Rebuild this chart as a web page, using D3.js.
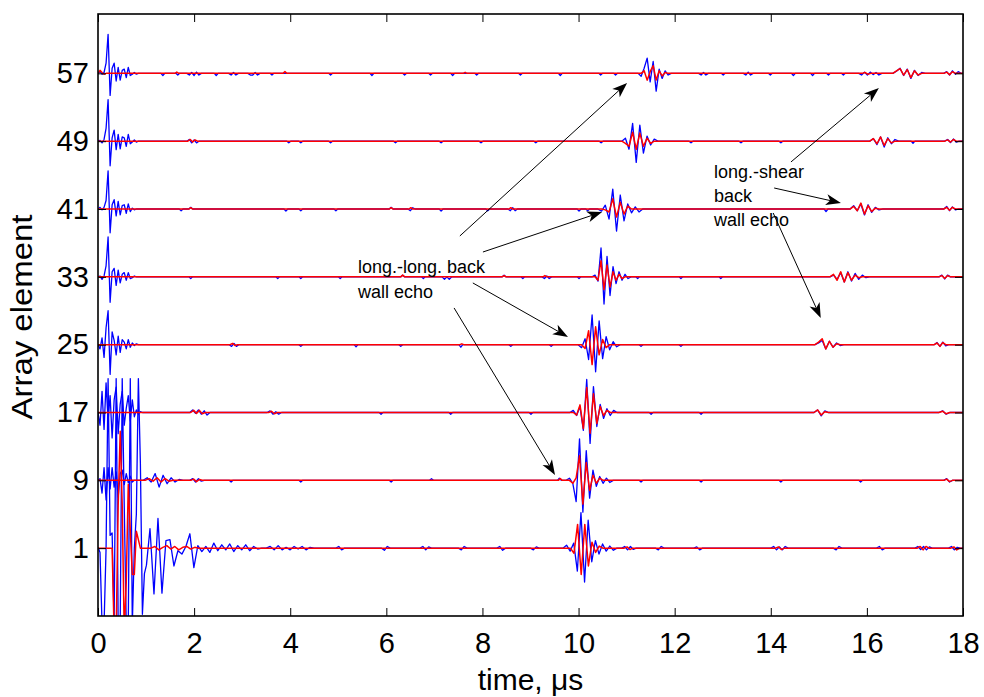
<!DOCTYPE html>
<html><head><meta charset="utf-8">
<script src="https://cdn.jsdelivr.net/npm/d3@7"></script>
<style>
body{margin:0;background:#fff}
svg{display:block}
text{font-family:"Liberation Sans",Arial,Helvetica,sans-serif;fill:#000}
</style></head><body>
<svg id="chart" width="984" height="697"></svg>
<script>
// ---------- data ----------
const elements = [1, 9, 17, 25, 33, 41, 49, 57];
const xTicks = [0, 2, 4, 6, 8, 10, 12, 14, 16, 18];
const xDomain = [0, 18];
const yDomain = [-7, 64];
const xLabel = "time, \u03bcs";
const yLabel = "Array element";
// each burst: [start time (µs), step (µs), offsets from the element baseline (element units)]
const blue57 = [
  [0, 0.042, [0, .2, -.1, .1, 1.2, 4.6, -2.6, .6, 1.2, -.9, .7, -.8, .35, .5, -.5, .7, -.25, -.1, .1, -.1, 0]],
  [1.31, .04, [0, -.25, 0]], [1.62, .04, [0, -.2, 0]], [1.85, .05, [0, -.2, .1, -.25, .15, -.2, 0]],
  [2.42, .04, [0, -.25, 0]], [2.72, .05, [0, -.2, .1, -.2, 0]], [3.12, .05, [0, -.2, -.2, .1, -.2, 0]],
  [3.58, .04, [0, -.2, 0]], [4.8, .04, [0, -.2, 0]], [5.66, .04, [0, -.25, 0]], [6.34, .04, [0, -.2, 0]],
  [6.88, .04, [0, -.2, 0]], [7.34, .04, [0, -.25, 0]], [7.84, .04, [0, -.2, 0]], [8.75, .04, [0, -.2, 0]],
  [9.58, .04, [0, -.25, 0]], [10.42, .04, [0, -.2, 0]], [10.73, .04, [0, -.2, 0]],
  [11.24, .0625, [0, -.35, .6, 1.8, -1.0, 1.4, -2.1, .5, -.6, .3, -.2, 0]],
  [12.5, .05, [0, -.2, .1, -.2, 0]], [12.97, .04, [0, -.2, 0]], [13.43, .05, [0, -.2, .15, -.2, 0]],
  [13.95, .04, [0, -.2, 0]], [14.43, .04, [0, -.25, 0]], [14.83, .04, [0, -.25, 0]], [15.16, .04, [0, -.2, 0]],
  [15.47, .04, [0, -.2, 0]], [15.83, .06, [0, -.2, .15, -.2, .15, -.15, .1, -.2, 0]],
  [16.54, .075, [0, .25, .6, -.25, .5, -.6, .35, -.25, .1, 0]],
  [17.6, .06, [0, .2, -.2, .3, -.1, .2, 0]]
];
const red57 = [
  [0, 0.042, [0, .35, .1, -.1, 0]],
  [1.6, .04, [0, .15, 0]], [3.85, .04, [0, .2, 0]], [7.6, .04, [0, .12, 0]],
  [11.24, .0625, [0, 0, .3, -.8, .2, .9, -.8, .3, -.3, .1, 0]],
  [15.9, .06, [0, .1, -.1, 0]],
  [16.54, .075, [0, .3, .55, -.2, .45, -.5, .3, -.2, 0]],
  [17.6, .06, [0, .15, -.15, .2, 0]]
];
const blue49 = [
  [0, 0.042, [0, .1, -.2, .2, 1.5, 4.9, -2.9, .4, 1.3, -1.0, .8, -.9, .5, .4, -.6, .8, -.3, -.1, .15, -.1, 0]],
  [1.85, .05, [0, .2, -.2, .15, -.2, 0]], [3.93, .04, [0, -.2, 0]], [4.18, .04, [0, -.2, 0]],
  [4.8, .04, [0, -.2, 0]], [6.15, .04, [0, -.2, 0]], [7.1, .04, [0, -.2, 0]], [7.93, .04, [0, -.2, 0]],
  [9.07, .04, [0, -.2, 0]], [10.43, .04, [0, -.2, 0]],
  [10.90, .075, [0, .35, -.95, 2.1, -2.5, 1.9, -1.4, .6, -.45, .25, 0]],
  [12.3, .04, [0, -.2, 0]], [13.34, .04, [0, -.2, 0]], [14.17, .04, [0, -.2, 0]],
  [16.06, .075, [0, .3, -.4, .5, -.7, .4, -.3, .2, 0]],
  [16.92, .04, [0, -.25, 0]],
  [17.62, .06, [0, .2, -.15, .25, -.1, 0]]
];
const red49 = [
  [1.87, .05, [0, .2, -.1, .15, 0]],
  [10.90, .075, [0, -.25, -.6, 1.05, -.95, .95, -.6, .35, -.25, 0]],
  [16.06, .075, [0, .3, -.3, .5, -.5, .3, -.2, 0]],
  [17.62, .06, [0, .15, -.1, .2, 0]]
];
const blue41 = [
  [0, 0.042, [0, .2, -.1, .2, 1.0, 4.5, -2.8, .5, 1.1, -.8, .9, -.7, .4, .5, -.5, .6, -.3, .1, -.1, 0]],
  [1.69, .04, [0, -.2, 0]], [1.89, .04, [0, .2, 0]], [3.87, .04, [0, -.25, 0]], [4.18, .04, [0, -.2, 0]],
  [4.91, .04, [0, -.2, 0]], [6.06, .04, [0, .2, 0]], [6.45, .05, [0, -.2, .15, 0]], [7.1, .04, [0, -.25, 0]],
  [8.07, .04, [0, -.2, 0]], [8.53, .05, [0, -.2, .15, -.2, 0]], [9.97, .04, [0, -.25, 0]], [10.15, .04, [0, -.2, 0]],
  [10.40, .078, [0, -.25, .45, -1.2, 2.35, -2.6, 1.65, -1.4, .6, -.45, .25, -.35, 0]],
  [15.11, .04, [0, -.3, 0]],
  [15.65, .075, [0, .4, -.2, .6, -.7, .5, -.4, .2, -.1, 0]],
  [17.6, .06, [0, .3, -.2, .25, -.1, 0]]
];
const red41 = [
  [1.89, .04, [0, .15, 0]], [6.06, .04, [0, .15, 0]], [6.47, .04, [0, .15, 0]], [8.55, .04, [0, .15, 0]],
  [10.40, .078, [0, 0, -.1, -.35, 1.2, -.95, .8, -.6, .35, 0]],
  [15.65, .075, [0, .3, -.2, .7, -.6, .4, -.3, .1, 0]],
  [17.6, .06, [0, .2, -.15, .2, 0]]
];
const blue33 = [
  [0, 0.042, [0, .1, -.3, .1, 1.3, 4.7, -3.0, .6, 1.0, -1.0, .8, -.7, .3, .5, -.4, .5, -.2, -.1, .1, 0]],
  [1.89, .04, [0, -.2, 0]], [3.7, .04, [0, -.2, 0]], [4.18, .04, [0, -.2, 0]], [5.0, .04, [0, -.2, 0]],
  [6.3, .04, [0, .2, 0]], [6.73, .04, [0, -.2, 0]], [7.16, .05, [0, -.3, 0, -.3, 0]], [8.41, .04, [0, .2, 0]],
  [8.8, .04, [0, -.2, 0]], [9.24, .05, [0, -.2, .1, -.2, 0]], [9.97, .04, [0, -.2, 0]],
  [10.28, .0625, [0, .2, -.5, 3.4, -3.2, 2.4, -2.2, 1.2, -.8, .6, -.4, .3, -.2, 0]],
  [11.19, .04, [0, -.2, 0]], [12.09, .04, [0, -.2, 0]], [12.92, .04, [0, -.2, 0]],
  [15.23, .075, [0, .2, -.3, .5, -.6, .6, -.5, .4, -.3, .2, -.1, 0]],
  [17.5, .06, [0, .2, -.25, .2, 0]]
];
const red33 = [
  [6.3, .04, [0, .2, 0]], [8.41, .04, [0, .15, 0]], [9.26, .04, [0, .15, 0]],
  [10.28, .0625, [0, 0, -.4, 1.9, -1.5, 1.4, -1.2, .6, -.4, .3, -.2, 0]],
  [15.23, .075, [0, .3, -.4, .6, -.6, .5, -.4, .2, -.1, 0]],
  [17.5, .06, [0, .15, -.2, .15, 0]]
];
const blue25 = [
  [0, 0.042, [0, -.5, .8, -1.5, 2.0, 4.0, -3.5, 1.5, .5, -1.2, 1.0, -.9, .6, .3, -.5, .6, -.3, .2, -.1, .1, 0]],
  [2.73, .05, [0, -.2, .15, -.2, 0]], [4.18, .04, [0, -.2, 0]], [5.33, .04, [0, -.25, 0]], [6.26, .04, [0, -.2, 0]],
  [7.51, .04, [0, -.3, 0]], [8.55, .04, [0, -.2, 0]], [9.39, .04, [0, -.2, 0]],
  [9.99, .073, [0, -.35, .7, -1.75, 3.5, -3.2, 2.8, -1.65, .95, -.6, .35, -.25, 0]],
  [11.26, .04, [0, -.2, 0]], [12.09, .04, [0, -.2, 0]],
  [14.92, .075, [0, .2, .5, -.5, .4, -.3, .2, -.1, 0]],
  [17.4, .06, [0, .25, -.2, .3, -.15, 0]]
];
const red25 = [
  [2.75, .05, [0, .15, -.1, 0]], [7.53, .04, [0, .1, 0]],
  [9.99, .073, [0, 0, -.45, 1.65, -2.35, 2.1, -1.2, .6, -.35, 0]],
  [14.92, .075, [0, .3, .7, -.5, .4, -.3, .1, 0]],
  [17.4, .06, [0, .2, -.2, .25, 0]]
];
const blue17 = [
  [0, 0.042, [0, -1.5, 2.5, -2.0, 3.5, -1.0, 2.0, -3.0, 1.5, 3.0, -2.5, 1.0, 2.5, -1.5, .5, 2.0, -1.0, 1.5, -.5, .3, -.2, .1, 0]],
  [1.91, .06, [0, .3, -.1, .3, -.2, .2, -.3, 0]], [3.52, .06, [0, .2, -.2, .1, -.2, 0]],
  [5.85, .04, [0, -.2, 0]], [7.3, .04, [0, -.2, 0]], [8.97, .04, [0, -.2, 0]],
  [9.82, .07, [0, .25, -.35, .7, -2.1, 3.9, -3.65, 3.05, -1.65, .95, -.7, .45, -.35, .25, 0]],
  [11.47, .04, [0, -.2, 0]], [12.51, .04, [0, -.2, 0]],
  [14.9, .075, [0, .3, -.4, .2, 0]],
  [17.5, .075, [0, .2, -.2, 0]]
];
const red17 = [
  [1.93, .06, [0, .25, -.1, .25, -.15, 0]], [3.55, .06, [0, .15, -.15, 0]],
  [9.82, .07, [0, 0, -.3, .9, -1.9, 2.95, -2.45, 2.2, -1.3, .7, -.35, .25, 0]],
  [14.9, .075, [0, .3, -.3, .1, 0]],
  [17.5, .075, [0, .15, -.15, 0]]
];
const blue9 = [
  [0, 0.042, [0, .2, -1.5, 1.5, -2.3, 1.5, -1.0, 1.5, -.8, 1.0, -2.0, .8, 1.2, -.5, .8, -.3, .5, -.2, 0]],
  [0.94, .083, [0, .3, -.2, .8, -.8, .6, -.4, .3, -.2, .1, 0]],
  [1.91, .06, [0, .2, -.2, .2, -.1, 0]], [2.73, .04, [0, -.2, 0]], [4.18, .04, [0, -.2, 0]],
  [6.06, .04, [0, -.2, 0]], [6.9, .04, [0, .2, 0]], [9.56, .04, [0, .25, 0]],
  [9.74, .07, [0, .25, -.35, -2.5, 4.9, -3.75, 3.5, -2.1, 1.2, -.7, .45, -.35, .25, -.25, 0]],
  [11.26, .04, [0, -.2, 0]], [12.51, .04, [0, -.2, 0]], [14.17, .04, [0, -.2, 0]], [15.83, .04, [0, -.2, 0]],
  [17.6, .06, [0, .2, -.2, 0]]
];
const red9 = [
  [0.98, .083, [0, .2, -.1, .3, -.2, .2, -.1, 0]],
  [1.93, .06, [0, .15, -.15, .1, 0]], [9.58, .04, [0, .2, 0]],
  [9.74, .07, [0, 0, -.35, .3, 2.9, -2.8, 2.1, -1.2, .6, -.35, .25, 0]],
  [17.6, .06, [0, .15, -.15, 0]]
];
const blue1 = [
  [0, 0.042, [.1, -.5, -9, -9, 0, 20, 1.5, 1.8, -9, 20, -9, -9, 20, 5, -9, -9, 20, -9, 0, 4, 20, 10, -7.8, -3, -2]],
  [1.082, .083, [2.3, -5.4, 3.5, -5.3, .9, 1.0, -2.1, -.3, -.7, .2, 1.7, -2.3, .3, -.4, .2, -.5, .6, -.3, .4, -.2, .5, -.4, .3, -.2, .4, -.3, .2, -.1, 0]],
  [3.5, .083, [0, .2, -.2, .3, -.2, .1, -.2, .2, -.1, .2, -.2, .1, 0]],
  [4.95, .06, [0, .2, -.2, 0]], [5.9, .06, [0, -.25, .2, 0]], [6.7, .06, [0, .2, -.2, .15, 0]],
  [7.5, .06, [0, -.2, .2, 0]], [8.3, .06, [0, .2, -.25, 0]], [9.0, .06, [0, -.2, .15, 0]],
  [9.675, .075, [0, .35, -.35, .6, -2.7, 4.2, -4.0, 3.3, -1.6, .9, -.7, .5, -.35, .25, -.25, 0]],
  [10.9, .06, [0, .2, -.2, .2, -.15, 0]], [11.6, .06, [0, -.2, .2, 0]], [12.4, .06, [0, .15, -.2, 0]],
  [14.0, .06, [0, .2, -.2, .15, -.2, .2, 0]], [15.3, .06, [0, -.2, .2, 0]], [16.2, .06, [0, .2, -.2, 0]],
  [17.0, .06, [0, .2, -.15, .2, -.2, .15, 0]], [17.7, .06, [0, .2, -.2, .1, 0]]
];
const red1 = [
  [0, 0.042, [0, 0, 0, 0, 0, 0, 0, 0, -10, -10, 5, 13.8, 5, -10, -4, 7.5, 2, -3.1, -3.1, 2, 1, 0]],
  [1.1, .083, [0, .2, -.2, .1, .3, -.1, .2, -.2, .1, .2, -.1, .1, 0]],
  [9.83, .075, [0, -.6, 2.8, -3.1, 2.8, -2.1, .7, -.5, .25, 0]],
  [10.95, .06, [0, .15, -.15, 0]], [14.1, .06, [0, .15, -.15, 0]],
  [17.05, .06, [0, .2, -.2, .2, 0]], [17.75, .06, [0, .15, -.2, 0]]
];
const traces = [
  {el: 1, blue: blue1, red: red1}, {el: 9, blue: blue9, red: red9},
  {el: 17, blue: blue17, red: red17}, {el: 25, blue: blue25, red: red25},
  {el: 33, blue: blue33, red: red33}, {el: 41, blue: blue41, red: red41},
  {el: 49, blue: blue49, red: red49}, {el: 57, blue: blue57, red: red57}
];
// annotations (data coordinates): [tailT, tailY, headT, headY]
const arrowsLongLong = [[7.53, 37.82, 11.01, 55.86], [8.01, 35.93, 10.49, 40.65], [7.80, 32.28, 9.78, 25.91], [7.41, 29.33, 9.51, 9.63]];
const arrowsLongShear = [[14.42, 46.55, 16.25, 55.27], [14.07, 43.48, 15.46, 41.71], [14.05, 40.53, 15.04, 28.15]];
const noteLongLong = {t: 5.41, y: 33.45, lines: ["long.-long. back", "wall echo"]};
const noteLongShear = {t: 12.82, y: 44.66, lines: ["long.-shear", "back", "wall echo"]};

// ---------- drawing ----------
const plot = {left: 98, right: 963, top: 14, bottom: 616};
const svg = d3.select("#chart");
const x = d3.scaleLinear().domain(xDomain).range([plot.left, plot.right]);
const y = d3.scaleLinear().domain(yDomain).range([plot.bottom, plot.top]);

svg.append("defs").append("clipPath").attr("id", "clip")
  .append("rect").attr("x", plot.left).attr("y", plot.top)
  .attr("width", plot.right - plot.left).attr("height", plot.bottom - plot.top);

function points(bursts) {
  let pts = [];
  bursts.forEach(([t0, dt, vals]) => vals.forEach((v, i) => pts.push([t0 + i * dt, v])));
  pts.sort((a, b) => a[0] - b[0]);
  if (pts[0][0] > 0) pts.unshift([0, 0]);
  if (pts[pts.length - 1][0] < 18) pts.push([18, 0]);
  return pts;
}

const traceG = svg.append("g").attr("clip-path", "url(#clip)");
["blue", "red"].forEach(color => {
  traces.forEach(tr => {
    const line = d3.line().x(d => x(d[0])).y(d => y(tr.el + d[1]));
    traceG.append("path").attr("d", line(points(tr[color])))
      .attr("fill", "none").attr("stroke", color === "blue" ? "#0000ff" : "#ff0000")
      .attr("stroke-width", color === "blue" ? 1.3 : 1.5).attr("stroke-linejoin", "round");
  });
});

// axes
const fs = 29;
const gx = svg.append("g").attr("transform", `translate(0,${plot.bottom})`)
  .call(d3.axisBottom(x).tickValues(xTicks).tickSizeInner(-8).tickSizeOuter(0).tickPadding(16));
const gxt = svg.append("g").attr("transform", `translate(0,${plot.top})`)
  .call(d3.axisTop(x).tickValues(xTicks).tickSizeInner(-8).tickSizeOuter(0).tickFormat(""));
const gy = svg.append("g").attr("transform", `translate(${plot.left},0)`)
  .call(d3.axisLeft(y).tickValues(elements).tickSizeInner(-8).tickSizeOuter(0).tickPadding(9));
const gyr = svg.append("g").attr("transform", `translate(${plot.right},0)`)
  .call(d3.axisRight(y).tickValues(elements).tickSizeInner(-8).tickSizeOuter(0).tickFormat(""));
[gx, gxt, gy, gyr].forEach(g => {
  g.select(".domain").remove();
  g.selectAll(".tick line").attr("stroke", "#000").attr("stroke-width", 1);
  g.selectAll("text").attr("font-size", fs).attr("font-family", '"Liberation Sans",Arial,sans-serif').attr("fill", "#000");
});
svg.append("rect").attr("x", plot.left).attr("y", plot.top)
  .attr("width", plot.right - plot.left).attr("height", plot.bottom - plot.top)
  .attr("fill", "none").attr("stroke", "#000").attr("stroke-width", 1.6);

svg.append("text").attr("x", (plot.left + plot.right) / 2).attr("y", 690)
  .attr("text-anchor", "middle").attr("font-size", 30).text(xLabel);
svg.append("text").attr("transform", `translate(32,${(plot.top + plot.bottom) / 2 + 2}) rotate(-90)`)
  .attr("text-anchor", "middle").attr("font-size", 30)
  .attr("textLength", 205).attr("lengthAdjust", "spacingAndGlyphs").text(yLabel);

// annotations
const annG = svg.append("g");
function arrow(a) {
  const x1 = x(a[0]), y1 = y(a[1]), x2 = x(a[2]), y2 = y(a[3]);
  const ang = Math.atan2(y2 - y1, x2 - x1);
  const L = 15, Wd = 5.5, notch = 11;
  const ux = Math.cos(ang), uy = Math.sin(ang), px = -uy, py = ux;
  annG.append("line").attr("x1", x1).attr("y1", y1)
    .attr("x2", x2 - ux * notch).attr("y2", y2 - uy * notch)
    .attr("stroke", "#000").attr("stroke-width", 1);
  const bx = x2 - ux * L, by = y2 - uy * L;
  const nx = x2 - ux * notch, ny = y2 - uy * notch;
  annG.append("path")
    .attr("d", `M${x2},${y2}L${bx + px * Wd},${by + py * Wd}L${nx},${ny}L${bx - px * Wd},${by - py * Wd}Z`)
    .attr("fill", "#000");
}
arrowsLongLong.forEach(arrow);
arrowsLongShear.forEach(arrow);
function note(n, step) {
  n.lines.forEach((s, i) => {
    annG.append("text").attr("x", x(n.t)).attr("y", y(n.y) + i * step)
      .attr("font-size", 18).attr("fill", "#1a1a1a").text(s);
  });
}
note(noteLongLong, 25);
note(noteLongShear, 24);
</script>
</body></html>
